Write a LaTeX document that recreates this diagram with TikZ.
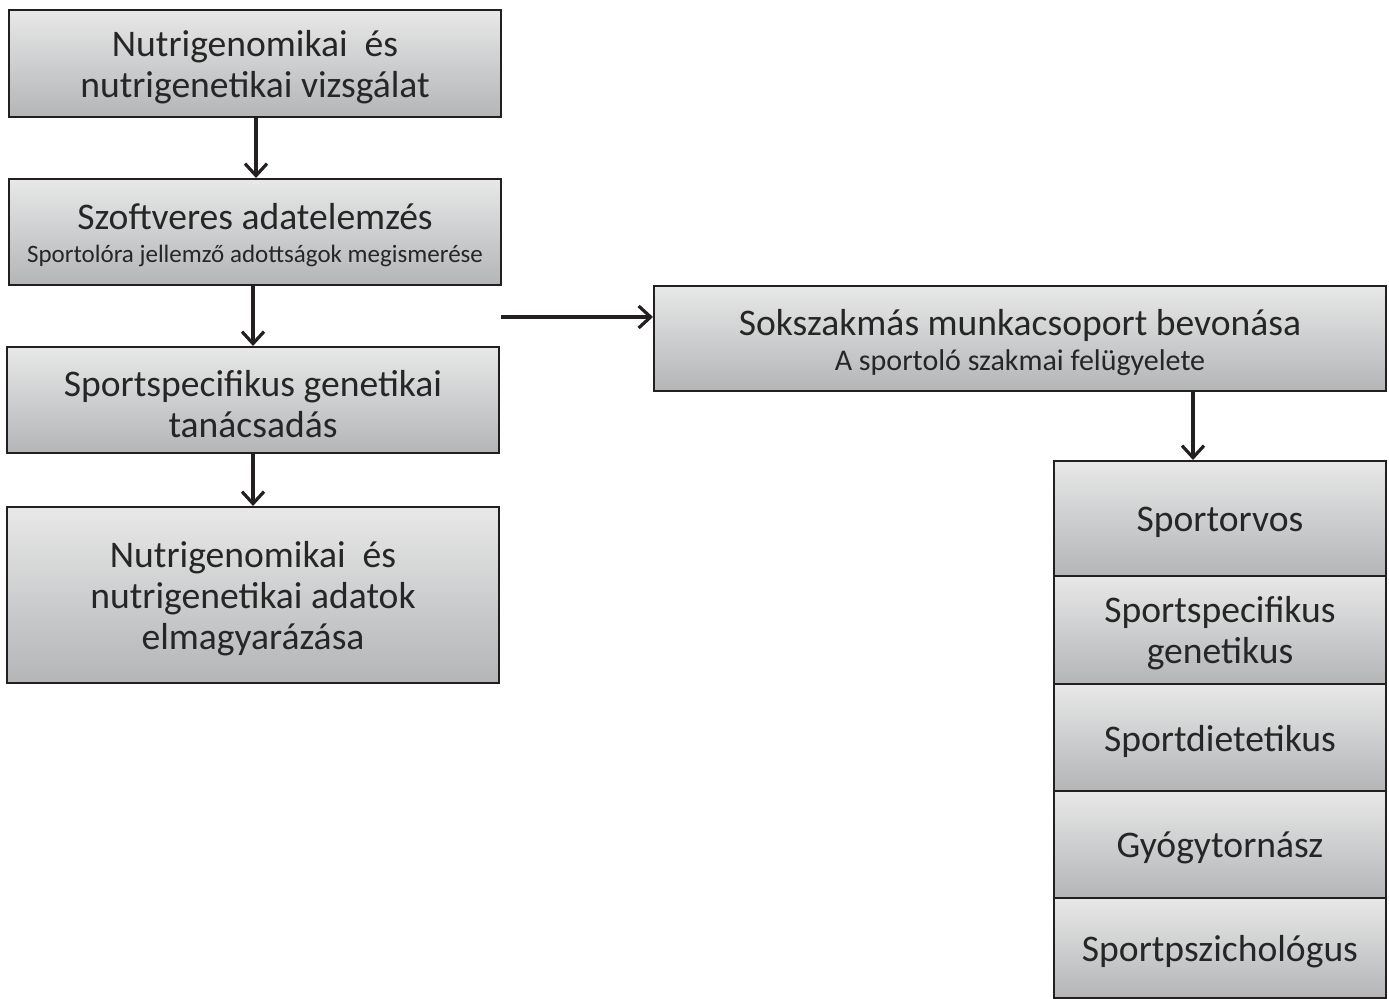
\documentclass[tikz,border=0pt]{standalone}
\usepackage{fontspec}
\setmainfont{Carlito}
\usetikzlibrary{arrows.meta}
\definecolor{edge}{HTML}{231F20}
\definecolor{topg}{HTML}{E8E8E8}
\definecolor{botg}{HTML}{B3B5B7}
\tikzset{
  box/.style={draw=edge, line width=1pt, top color=topg, bottom color=botg,
    inner sep=0pt,
    label={[txt]center:#1}},
  txt/.style={align=center, inner sep=0pt, text=black!85, yshift=-1.8pt,
    font=\fontsize{18.8}{20.5}\selectfont},
  conn/.style={draw=edge, line width=2pt, -{Straight Barb[length=6pt,width=11pt,line width=1.6pt]}}
}
\newcommand{\subtxt}[2]{{\fontsize{#1}{14}\selectfont #2}}
\begin{document}
\begin{tikzpicture}[x=0.5pt,y=-0.5pt]
\useasboundingbox (0,0) rectangle (1389,999);
\node[box={Nutrigenomikai\ \ és\\nutrigenetikai vizsgálat}, minimum width=246pt, minimum height=53.5pt] (b1) at (255,63.5) {};
\node[box={Szoftveres adatelemzés\\[-4pt]\subtxt{12.5}{Sportolóra jellemző adottságok megismerése}}, minimum width=246pt, minimum height=53pt] (b2) at (255,232) {};
\node[box={Sportspecifikus genetikai\\tanácsadás}, minimum width=246pt, minimum height=53pt] (b3) at (253,400) {};
\node[box={Nutrigenomikai\ \ és\\nutrigenetikai adatok\\elmagyarázása}, minimum width=246pt, minimum height=88pt] (b4) at (253,595) {};
\node[box={Sokszakmás munkacsoport bevonása\\[-3pt]\subtxt{15}{A sportoló szakmai felügyelete}}, minimum width=366pt, minimum height=52.5pt] (b5) at (1020,338.5) {};
\node[box={Sportorvos}, minimum width=166pt, minimum height=57.5pt] (s1) at (1220,518.5) {};
\node[box={Sportspecifikus\\genetikus}, minimum width=166pt, minimum height=54pt] (s2) at (1220,630) {};
\node[box={Sportdietetikus}, minimum width=166pt, minimum height=53.5pt] (s3) at (1220,737.5) {};
\node[box={Gyógytornász}, minimum width=166pt, minimum height=53.5pt] (s4) at (1220,844.5) {};
\node[box={Sportpszichológus}, minimum width=166pt, minimum height=50pt] (s5) at (1220,948) {};
\coordinate (hs) at (501,317);
\draw[conn] (b1.south -| 256,0) -- (b2.north -| 256,0);
\draw[conn] (b2.south -| 253,0) -- (b3.north -| 253,0);
\draw[conn] (b3.south -| 253,0) -- (b4.north -| 253,0);
\draw[conn] (hs) -- (hs -| b5.west);
\draw[conn] (b5.south -| 1193,0) -- (s1.north -| 1193,0);
\end{tikzpicture}
\end{document}
